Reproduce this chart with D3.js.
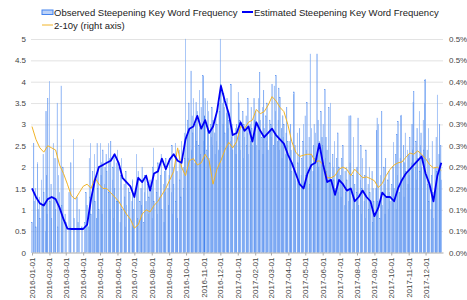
<!DOCTYPE html>
<html>
<head>
<meta charset="utf-8">
<script src="https://cdn.jsdelivr.net/npm/d3@7"></script>
<style>
  body { margin: 0; background: #fff; }
  text { font-family: "Liberation Sans", Arial, sans-serif; }
</style>
</head>
<body>
<svg id="chart" width="467" height="300"></svg>
<script>
// ---- data ----
const monthTicks = ['2016-01-01','2016-02-01','2016-03-01','2016-04-01','2016-05-01','2016-06-01',
  '2016-07-01','2016-08-01','2016-09-01','2016-10-01','2016-11-01','2016-12-01',
  '2017-01-01','2017-02-01','2017-03-01','2017-04-01','2017-05-01','2017-06-01',
  '2017-07-01','2017-08-01','2017-09-01','2017-10-01','2017-11-01','2017-12-01'];
const leftTicks = [0, 0.5, 1, 1.5, 2, 2.5, 3, 3.5, 4, 4.5, 5];
const rightTicks = [0, 0.05, 0.1, 0.15, 0.2, 0.25, 0.3, 0.35, 0.4, 0.45, 0.5];
const rightTickLabels = ['0.0%','0.1%','0.1%','0.2%','0.2%','0.3%','0.3%','0.4%','0.4%','0.5%','0.5%'];

// observed frequency, one value per weekday
const obs2016 = [
  0.7,2.55,1.2,0,1.5,0.6,2.1,1.0,0,1.3,0.8,1.7,0,1.1,2.3,1.4,0.5,3.3,1.8,0.9,3.6,            // jan
  4.0,1.2,0,1.6,0.8,2.55,1.3,0,2.2,1.0,3.5,0.6,1.8,0,1.4,3.9,1.1,0.7,2.0,0,0.9,              // feb
  0,0.7,0,0,1.4,0,0.6,2.1,0,0,2.65,0.8,0,0,1.3,0,0.7,0,1.0,0,0,0.6,0,                          // mar
  0,0.7,0,1.4,0,1.1,0.6,2.2,1.3,2.55,0.9,1.9,0,1.6,2.3,1.2,0.8,2.55,1.5,2.0,1.0,              // apr
  2.55,1.8,2.1,0.9,2.4,1.6,2.0,0,2.3,1.9,2.55,1.4,2.2,1.0,2.6,1.7,2.0,0.8,2.3,1.5,2.1,1.2,    // may
  2.4,1.2,2.0,0.7,1.8,2.2,1.0,0,1.6,1.3,0.6,1.9,1.1,0,1.5,0.8,1.4,0,1.2,1.7,0.6,1.0,          // jun
  1.3,0,2.3,1.6,0.8,1.9,1.2,0,1.5,1.1,2.0,0.7,1.4,1.8,0,1.2,1.6,0.9,1.3,0,1.7,                // jul
  1.5,0.8,2.0,2.45,1.2,0,1.7,1.4,0.9,2.1,1.3,0,1.8,2.3,1.0,1.6,0.7,1.9,1.4,2.2,0,1.5,1.1,     // aug
  1.8,2.2,1.4,2.5,0.9,2.0,1.6,2.56,1.2,2.3,1.9,0.8,2.4,1.7,2.1,1.3,2.6,2.0,1.5,2.8,2.2,5.0,   // sep
  2.7,3.1,2.2,3.5,2.9,4.25,2.4,3.2,2.8,3.6,2.1,3.0,3.51,2.6,3.3,2.5,3.8,2.9,2.3,3.4,4.14,     // oct
  4.12,2.6,3.2,3.6,2.4,3.55,2.9,3.3,2.2,3.0,2.7,3.4,2.5,3.1,2.8,2.3,3.2,2.6,3.0,2.4,3.5,3.3,  // nov
  5.0,3.93,3.5,3.0,3.73,3.4,2.8,3.26,3.6,3.32,2.9,3.1,2.6,3.94,2.7,3.0,2.4,2.8,2.5,2.9,2.3,3.0 // dec
];
const obs2017 = [
  3.75,3.5,2.6,3.1,2.4,2.9,3.3,2.2,3.0,2.7,3.2,2.5,2.8,3.6,2.3,3.0,2.6,3.4,2.9,2.5,3.6,3.1,   // jan
  2.8,3.3,2.5,3.0,3.6,2.4,4.22,3.1,2.7,3.4,2.3,3.8,2.9,3.2,2.6,3.5,2.8,2.4,3.1,2.9,           // feb
  3.0,2.7,3.94,2.5,3.9,2.8,3.3,4.14,2.6,3.1,3.85,2.4,3.63,2.9,2.2,3.2,2.7,3.0,2.3,2.8,3.4,2.5,2.6, // mar
  2.6,2.2,3.0,2.4,1.9,3.7,3.76,2.0,2.5,1.7,2.8,2.1,1.6,2.3,2.9,1.8,2.2,1.5,2.6,3.0,           // apr
  3.2,1.8,2.4,3.51,2.0,2.7,1.6,4.65,2.3,2.9,1.9,2.5,3.0,2.2,2.8,4.65,2.4,3.1,2.0,2.6,3.3,2.1,2.7, // may
  2.5,3.0,3.81,2.2,2.7,1.9,2.4,3.4,1.8,2.1,3.5,1.6,2.3,2.0,1.7,2.6,1.5,2.2,1.9,2.8,1.4,2.0,   // jun
  1.8,1.3,2.2,1.6,2.5,1.1,1.9,1.4,2.0,1.7,1.2,3.2,1.5,2.1,3.2,1.0,1.8,2.7,1.3,1.6,2.0,       // jul
  1.4,2.0,3.15,1.1,1.7,2.5,0.9,1.5,2.2,1.2,1.8,0.8,2.4,1.3,1.6,1.0,2.0,1.4,1.1,1.9,0.7,1.5,1.2, // aug
  0.9,1.5,2.85,3.15,1.2,3.0,0.8,1.8,1.4,3.3,1.1,2.0,1.6,0.9,2.2,1.3,1.7,1.0,1.9,1.4,1.2,     // sep
  1.6,1.2,2.0,2.58,1.5,2.3,1.0,2.77,1.8,3.07,1.4,2.2,3.2,3.22,1.7,2.5,1.3,2.1,2.8,1.9,2.4,1.6, // oct
  2.3,1.8,2.7,2.1,3.0,2.4,3.51,3.77,2.0,2.6,1.7,2.9,2.2,3.3,1.9,2.5,2.8,2.0,3.1,2.4,3.5,4.04, // nov
  4.06,2.4,1.6,2.9,1.2,2.2,1.0,1.8,2.6,1.4,0.8,2.0,1.5,2.7,1.9,3.69,2.3,3.0,2.1,2.5,1.7      // dec
];

// estimated frequency, one value per week from 2016-01-01
const estimated = [
  1.5,1.3,1.15,1.1,1.25,1.3,1.25,1.05,0.78,0.56,
  0.55,0.55,0.55,0.55,0.65,1.25,1.7,2.0,2.05,2.1,
  2.15,2.3,2.1,1.75,1.65,1.55,1.3,1.75,1.65,1.8,
  1.45,1.85,1.9,2.2,1.95,2.18,2.3,2.15,2.1,2.65,
  2.9,2.95,3.2,2.9,3.1,2.8,2.95,3.3,3.9,3.55,
  3.25,2.75,2.8,3.05,2.85,2.95,2.6,3.05,2.85,2.7,
  2.8,2.9,2.75,2.65,2.55,2.3,2.1,1.85,1.6,1.5,
  1.85,2.05,2.1,2.55,2.05,1.65,1.7,1.35,1.7,1.6,
  1.45,1.5,1.2,1.3,1.45,1.3,1.2,0.85,1.05,1.4,
  1.3,1.3,1.2,1.5,1.7,1.85,1.95,2.05,2.15,2.25,
  1.85,1.6,1.2,1.8,2.1
];

// 2-10y spread in percent, one value per week from 2016-01-01
const spread210 = [
  0.295,0.265,0.245,0.235,0.25,0.245,0.24,0.205,0.185,0.16,
  0.133,0.125,0.14,0.155,0.16,0.15,0.175,0.16,0.15,0.15,
  0.14,0.13,0.12,0.105,0.09,0.078,0.057,0.065,0.09,0.1,
  0.095,0.11,0.12,0.135,0.15,0.17,0.19,0.245,0.2,0.18,
  0.215,0.22,0.205,0.21,0.23,0.215,0.16,0.195,0.215,0.24,
  0.258,0.245,0.26,0.295,0.29,0.305,0.31,0.335,0.325,0.33,
  0.345,0.365,0.355,0.34,0.33,0.3,0.26,0.235,0.225,0.228,
  0.23,0.23,0.212,0.215,0.205,0.175,0.175,0.18,0.195,0.2,
  0.195,0.18,0.195,0.185,0.175,0.177,0.173,0.168,0.152,0.162,
  0.18,0.195,0.205,0.21,0.212,0.223,0.233,0.23,0.238,0.23,
  0.22,0.206,0.198,0.2,0.192
];

// ---- build ----
const svg = d3.select('#chart');
const parse = d3.timeParse('%Y-%m-%d');
const start = parse('2016-01-01');

const observed = [];
{
  const vals = obs2016.concat(obs2017);
  let d = start, i = 0;
  while (i < vals.length) {
    const wd = d.getDay();
    if (wd !== 0 && wd !== 6) { observed.push({ date: d, v: vals[i] }); i++; }
    d = d3.timeDay.offset(d, 1);
  }
}
const weekly = arr => arr.map((v, i) => ({ date: d3.timeDay.offset(start, i * 7), v: v }));

const x = d3.scaleTime().domain([start, parse('2018-01-01')]).range([32, 443]);
const yL = d3.scaleLinear().domain([0, 5]).range([252.5, 39]);
const yR = d3.scaleLinear().domain([0, 0.5]).range([252.5, 39]);

// gridlines
svg.append('g').selectAll('line').data(leftTicks.slice(1)).enter().append('line')
  .attr('x1', 31).attr('x2', 443)
  .attr('y1', d => yL(d) + 0.5).attr('y2', d => yL(d) + 0.5)
  .attr('stroke', '#e3e3e3').attr('stroke-width', 1);

// bars
const step = (x(d3.timeDay.offset(start, 7)) - x(start)) / 5;
const barW = step * 0.55;
svg.append('g').selectAll('rect').data(observed).enter().append('rect')
  .attr('x', d => x(d.date) - barW / 2)
  .attr('width', barW)
  .attr('y', d => yL(d.v))
  .attr('height', d => yL(0) - yL(d.v))
  .attr('fill', '#bcd2f8')
  .attr('stroke', '#4483ee')
  .attr('stroke-width', 0.35);

// lines
svg.append('path').datum(weekly(spread210))
  .attr('fill', 'none').attr('stroke', '#f1b429').attr('stroke-width', 1)
  .attr('d', d3.line().x(d => x(d.date)).y(d => yR(d.v)));
svg.append('path').datum(weekly(estimated))
  .attr('fill', 'none').attr('stroke', '#0000f5').attr('stroke-width', 1.8)
  .attr('stroke-linejoin', 'round')
  .attr('d', d3.line().x(d => x(d.date)).y(d => yL(d.v)));

// axes
const xAxis = d3.axisBottom(x)
  .tickValues(monthTicks.map(parse))
  .tickFormat(d3.timeFormat('%Y-%m-%d'))
  .tickSize(3).tickSizeOuter(0);
const gx = svg.append('g').attr('transform', 'translate(0,' + yL(0) + ')').call(xAxis);
gx.select('.domain').attr('stroke', '#aaa');
gx.selectAll('.tick line').attr('stroke', '#aaa');
gx.selectAll('text')
  .attr('font-size', 8).attr('fill', '#444')
  .attr('transform', 'rotate(-90)')
  .attr('text-anchor', 'end')
  .attr('x', -5).attr('y', 0).attr('dy', '0.32em');

const gyL = svg.append('g').attr('transform', 'translate(31,0)')
  .call(d3.axisLeft(yL).tickValues(leftTicks).tickFormat(d3.format('~g')).tickSize(0).tickPadding(5));
gyL.select('.domain').remove();
gyL.selectAll('text').attr('font-size', 8).attr('fill', '#444');

const gyR = svg.append('g').attr('transform', 'translate(443,0)')
  .call(d3.axisRight(yR).tickValues(rightTicks).tickFormat((d, i) => rightTickLabels[i]).tickSize(0).tickPadding(6));
gyR.select('.domain').remove();
gyR.selectAll('text').attr('font-size', 8).attr('fill', '#444');

// legend
const lg = svg.append('g').attr('font-size', 9.5).attr('fill', '#222');
lg.append('rect').attr('x', 42).attr('y', 10).attr('width', 11).attr('height', 4.5)
  .attr('fill', '#bcd2f8').attr('stroke', '#4483ee').attr('stroke-width', 1);
lg.append('text').attr('x', 54).attr('y', 15.5).text('Observed Steepening Key Word Frequency');
lg.append('line').attr('x1', 242).attr('x2', 253).attr('y1', 12).attr('y2', 12)
  .attr('stroke', '#0000f5').attr('stroke-width', 2);
lg.append('text').attr('x', 254).attr('y', 15.5).text('Estimated Steepening Key Word Frequency');
lg.append('line').attr('x1', 42).attr('x2', 53).attr('y1', 25).attr('y2', 25)
  .attr('stroke', '#f1b429').attr('stroke-width', 1);
lg.append('text').attr('x', 54).attr('y', 28.5).text('2-10y (right axis)');
</script>
</body>
</html>
